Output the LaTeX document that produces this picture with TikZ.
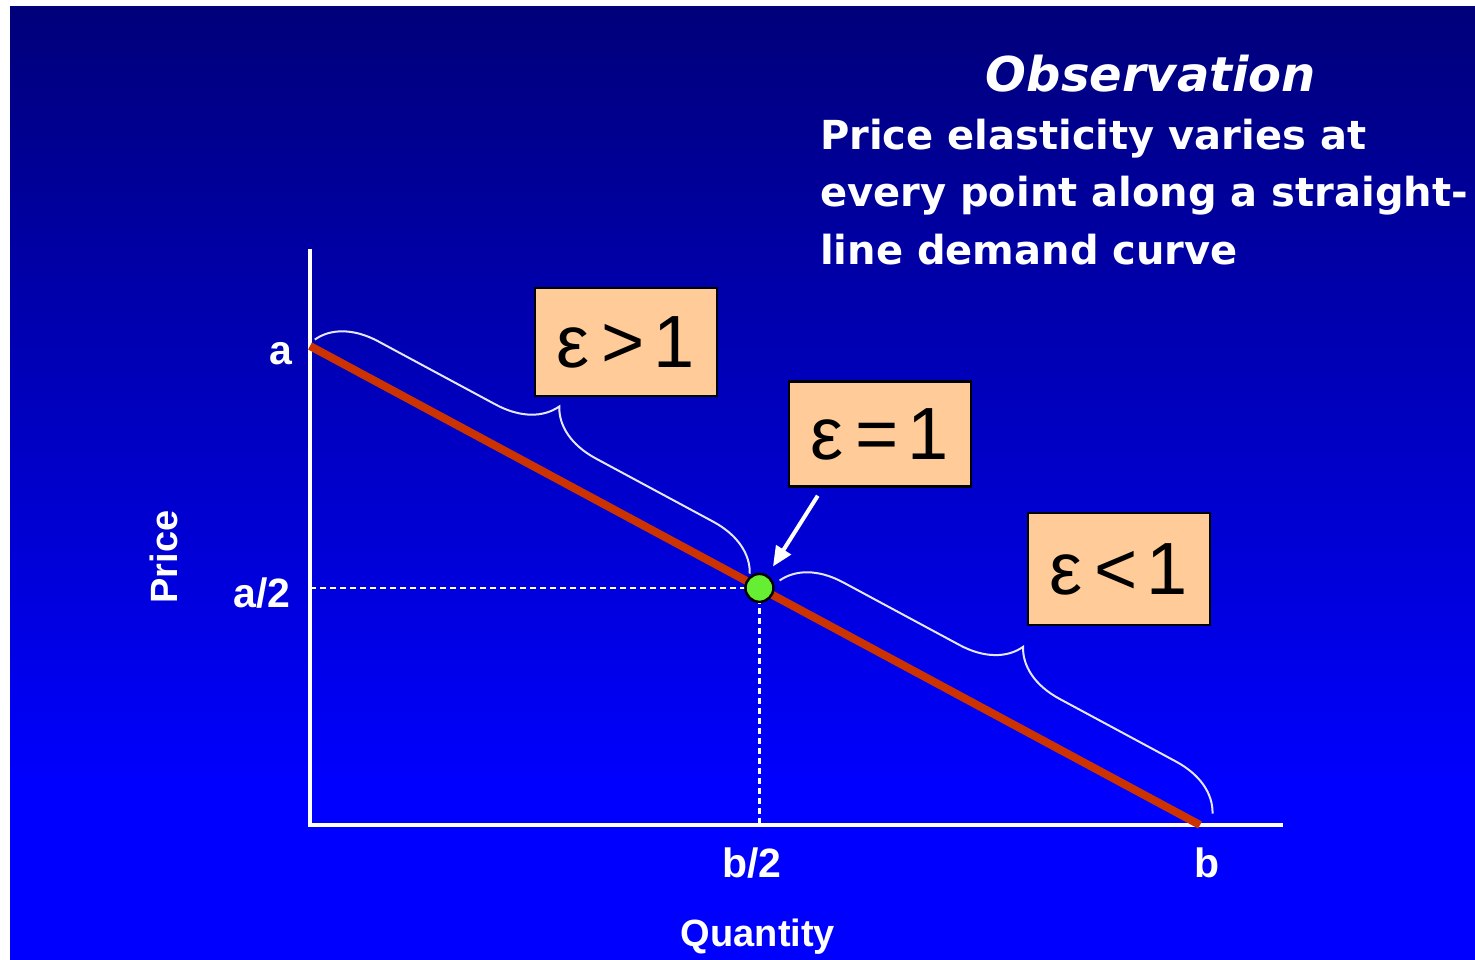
\documentclass[tikz,border=0pt]{standalone}
\usepackage{fontspec}
\setmainfont{Liberation Sans}
\newfontfamily\headfont{DejaVu Sans}
\usetikzlibrary{arrows.meta, positioning, calc, decorations.pathreplacing}
\definecolor{navytop}{HTML}{00007A}
\definecolor{bluebot}{HTML}{0000FF}
\definecolor{demand}{HTML}{CC3300}
\definecolor{peach}{HTML}{FFCC99}
\definecolor{dotgreen}{HTML}{66EE33}
\definecolor{bracecol}{HTML}{E6E6FF}

\begin{document}
\begin{tikzpicture}[
  x=1pt, y=-1pt,
  epsbox/.style={draw=black, line width=2.5pt, fill=peach, minimum width=182pt,
    minimum height=108pt, inner sep=0pt, font=\fontsize{74}{86}\selectfont},
  ticklab/.style={text=white, font=\fontsize{41}{48}\selectfont\bfseries,
    inner sep=0pt, anchor=base},
  axtitle/.style={text=white, font=\fontsize{38}{46}\selectfont\bfseries,
    inner sep=0pt, anchor=base},
  obsline/.style={text=white, font=\headfont\bfseries\fontsize{40}{48}\selectfont,
    inner sep=0pt, anchor=base west},
  axis/.style={white, line width=4pt},
  guide/.style={white, line width=2.5pt, dash pattern=on 6pt off 4pt},
  brc/.style={decorate, decoration={brace, amplitude=57pt, raise=#1},
    bracecol, line width=2pt},
  arr/.style={-{Triangle[length=20pt, width=17pt]}, white, line width=4pt},
]

% Background
\useasboundingbox (0,0) rectangle (1475,960);
\fill[white] (0,0) rectangle (1475,960);
\shade[top color=navytop, bottom color=bluebot] (10,7) rectangle (1475,790);
\fill[bluebot] (10,789) rectangle (1475,960);

% Title
\node[text=white, font=\headfont\bfseries\itshape\fontsize{48}{56}\selectfont,
  anchor=base, inner sep=0pt] (obs) at (1151,92) {Observation};
\node[obsline] (l1) at (820,150) {Price elasticity varies at};
\node[obsline] (l2) at (820,207) {every point along a straight-};
\node[obsline] (l3) at (820,265) {line demand curve};

% ---- Axes ----
\coordinate (O) at (310,825);
\coordinate (ytop) at (310,249);
\coordinate (xend) at (1283,825);
\coordinate (A) at (310,346);
\coordinate (B) at (1200,825);

\draw[axis] (ytop) -- ($(O)+(0,2)$);
\draw[axis] ($(O)+(-2,0)$) -- (xend);

% ---- Demand line and midpoint ----
\coordinate (M) at ($(A)!0.505!(B)$);
\draw[guide] (ytop |- M) -- (M);
\draw[guide] (M) -- (M |- O);
\draw[demand, line width=8pt] (A) -- (B);
\node[circle, fill=dotgreen, draw=black, line width=2.5pt, minimum size=28pt,
  inner sep=0pt] (dot) at (M) {};

% ---- Braces ----
\coordinate (b1s) at (311,346.6);
\coordinate (b1e) at (746,580.8);
\coordinate (b2s) at (772,594.6);
\coordinate (b2e) at (1205,827.7);
\draw[brc=8pt] (b1s) -- (b1e);
\draw[brc=16pt] (b2s) -- (b2e);

% ---- Elasticity boxes ----
\node[epsbox] (gt) at (626,342) {ε\kern12pt>\kern9pt1};
\node[epsbox, minimum height=105pt] (eq) at (880,434) {ε\kern12pt=\kern9pt1};
\node[epsbox, minimum height=112pt] (lt) at (1119,569) {ε\kern12pt<\kern9pt1};

% Arrow to midpoint
\coordinate (arrtail) at ($(eq.south west)+(30,8)$);
\draw[arr, shorten >=10pt] (arrtail) -- (dot);

% ---- Axis labels ----
\node[ticklab] (la) at (281,364) {a};
\node[ticklab] (la2) at (262,607) {a/2};
\node[ticklab] (lb2) at (752,877) {b/2};
\node[ticklab] (lb) at (1207,877) {b};
\node[axtitle] (qty) at (758,946) {Quantity};
\node[axtitle, rotate=90] (price) at (177,557) {Price};

\end{tikzpicture}
\end{document}
